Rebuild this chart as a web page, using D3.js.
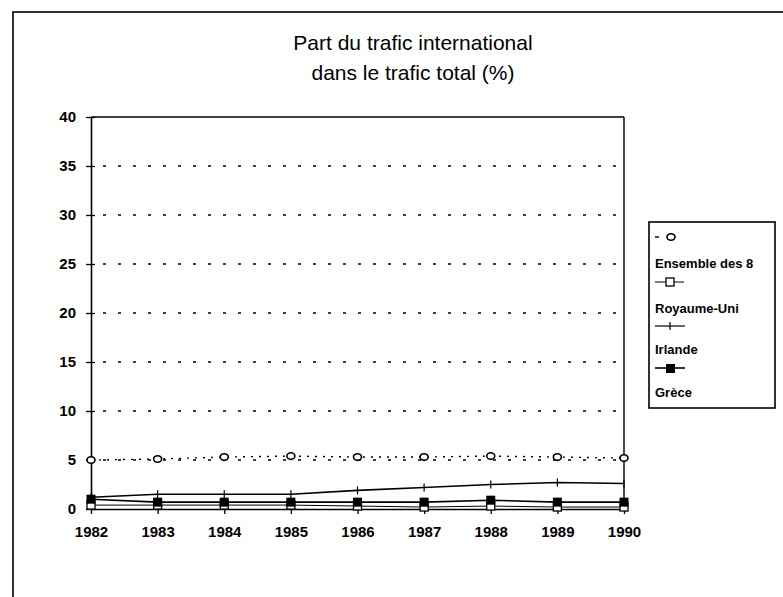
<!DOCTYPE html>
<html><head><meta charset="utf-8">
<script src="https://cdn.jsdelivr.net/npm/d3@7"></script>
<style>body{margin:0;background:#fff}svg{display:block}</style>
</head><body>
<svg id="c" width="783" height="597"></svg>
<script>
const years = [1982,1983,1984,1985,1986,1987,1988,1989,1990];
const ensemble = [5.0,5.1,5.3,5.4,5.3,5.3,5.4,5.3,5.2];
const royaumeUni = [0.4,0.4,0.4,0.4,0.3,0.2,0.3,0.2,0.2];
const irlande = [1.2,1.5,1.5,1.5,1.9,2.2,2.5,2.7,2.6];
const grece = [1.0,0.7,0.7,0.7,0.7,0.7,0.9,0.7,0.7];
const yTicks = [0,5,10,15,20,25,30,35,40];
const titleLines = ["Part du trafic international","dans le trafic total (%)"];
const legendLabels = ["Ensemble des 8","Royaume-Uni","Irlande","Grèce"];

const svg = d3.select("#c");
const F = "'Liberation Sans', Arial, Helvetica, sans-serif";
svg.append("rect").attr("x",13).attr("y",12).attr("width",800).attr("height",620)
  .attr("fill","#fff").attr("stroke","#000").attr("stroke-width",1.6);

svg.selectAll("text.title").data(titleLines).join("text")
  .attr("x",413).attr("y",(d,i)=>50+i*30).attr("text-anchor","middle")
  .attr("font-family",F).attr("font-size",21).attr("fill","#000").text(d=>d);

const x = d3.scalePoint().domain(years).range([91,624]);
const y = d3.scaleLinear().domain([0,40]).range([509,117]);

// grid
svg.append("g").selectAll("line").data(yTicks.filter(t=>t>0&&t<40)).join("line")
  .attr("x1",91).attr("x2",624).attr("y1",d=>y(d)).attr("y2",d=>y(d))
  .attr("stroke","#000").attr("stroke-width",1.4).attr("stroke-dasharray","3,12")
  .attr("stroke-dashoffset",-12);
// frame of plot
svg.append("line").attr("x1",91).attr("x2",624).attr("y1",y(40)).attr("y2",y(40)).attr("stroke","#000").attr("stroke-width",1.4);
svg.append("line").attr("x1",624).attr("x2",624).attr("y1",y(40)).attr("y2",y(0)).attr("stroke","#000").attr("stroke-width",1.4);

const ya = svg.append("g").attr("transform","translate(91,0)")
  .call(d3.axisLeft(y).tickValues(yTicks).tickSizeInner(5).tickSizeOuter(0).tickPadding(10));
ya.selectAll(".tick line").attr("x2",-5).attr("x1",4);
const xa = svg.append("g").attr("transform",`translate(0,${y(0)})`)
  .call(d3.axisBottom(x).tickSizeInner(5).tickSizeOuter(0).tickPadding(12));
xa.selectAll(".tick line").attr("y1",-5).attr("y2",5);
[ya,xa].forEach(a=>{
  a.select(".domain").attr("stroke","#000").attr("stroke-width",1.6);
  a.selectAll(".tick line").attr("stroke","#000").attr("stroke-width",1.3);
  a.selectAll("text").attr("font-family",F).attr("font-size",15).attr("font-weight","bold").attr("fill","#000");
});

const line = d3.line().x((d,i)=>x(years[i])).y(d=>y(d));
const g = svg.append("g");
// Royaume-Uni
g.append("path").datum(royaumeUni).attr("d",line).attr("fill","none").attr("stroke","#000").attr("stroke-width",1);
// Grece
g.append("path").datum(grece).attr("d",line).attr("fill","none").attr("stroke","#000").attr("stroke-width",1.6);
// Irlande
g.append("path").datum(irlande).attr("d",line).attr("fill","none").attr("stroke","#000").attr("stroke-width",1.6);
g.selectAll("line.ir").data(irlande).join("line")
  .attr("x1",(d,i)=>x(years[i])).attr("x2",(d,i)=>x(years[i]))
  .attr("y1",d=>y(d)-4).attr("y2",d=>y(d)+4).attr("stroke","#000").attr("stroke-width",1.2);
// Ensemble
g.append("path").datum(ensemble).attr("d",line).attr("fill","none").attr("stroke","#000")
  .attr("stroke-width",1.4).attr("stroke-dasharray","2,6");
g.selectAll("ellipse.en").data(ensemble).join("ellipse")
  .attr("cx",(d,i)=>x(years[i])).attr("cy",d=>y(d)).attr("rx",4).attr("ry",3.3)
  .attr("fill","#fff").attr("stroke","#000").attr("stroke-width",1.6);
// Royaume-Uni markers
g.selectAll("rect.ru").data(royaumeUni).join("rect")
  .attr("x",(d,i)=>x(years[i])-4).attr("y",d=>y(d)-4).attr("width",8).attr("height",8)
  .attr("fill","#fff").attr("stroke","#000").attr("stroke-width",1.3);
// Grece markers
g.selectAll("rect.gr").data(grece).join("rect")
  .attr("x",(d,i)=>x(years[i])-4.5).attr("y",d=>y(d)-4.5).attr("width",9).attr("height",9)
  .attr("fill","#000");

// legend
const L = svg.append("g");
L.append("rect").attr("x",649).attr("y",222).attr("width",126).attr("height",186)
  .attr("fill","#fff").attr("stroke","#000").attr("stroke-width",1.6);
L.selectAll("text").data(legendLabels).join("text")
  .attr("x",655).attr("y",(d,i)=>[268,313,354,397][i])
  .attr("font-family",F).attr("font-size",13).attr("font-weight","bold").text(d=>d);
// symbol 1
L.append("line").attr("x1",655).attr("x2",659).attr("y1",237).attr("y2",237).attr("stroke","#000").attr("stroke-width",1.4);
L.append("ellipse").attr("cx",671).attr("cy",237).attr("rx",4).attr("ry",3.3).attr("fill","#fff").attr("stroke","#000").attr("stroke-width",1.6);
// symbol 2
L.append("line").attr("x1",655).attr("x2",684).attr("y1",282).attr("y2",282).attr("stroke","#000").attr("stroke-width",1);
L.append("rect").attr("x",666).attr("y",278).attr("width",8).attr("height",8).attr("fill","#fff").attr("stroke","#000").attr("stroke-width",1.3);
// symbol 3
L.append("line").attr("x1",655).attr("x2",685).attr("y1",326).attr("y2",326).attr("stroke","#000").attr("stroke-width",1.2);
L.append("line").attr("x1",670).attr("x2",670).attr("y1",322).attr("y2",330).attr("stroke","#000").attr("stroke-width",1.2);
// symbol 4
L.append("line").attr("x1",655).attr("x2",685).attr("y1",368).attr("y2",368).attr("stroke","#000").attr("stroke-width",1.6);
L.append("rect").attr("x",666).attr("y",364).attr("width",9).attr("height",9).attr("fill","#000");
</script>
</body></html>
